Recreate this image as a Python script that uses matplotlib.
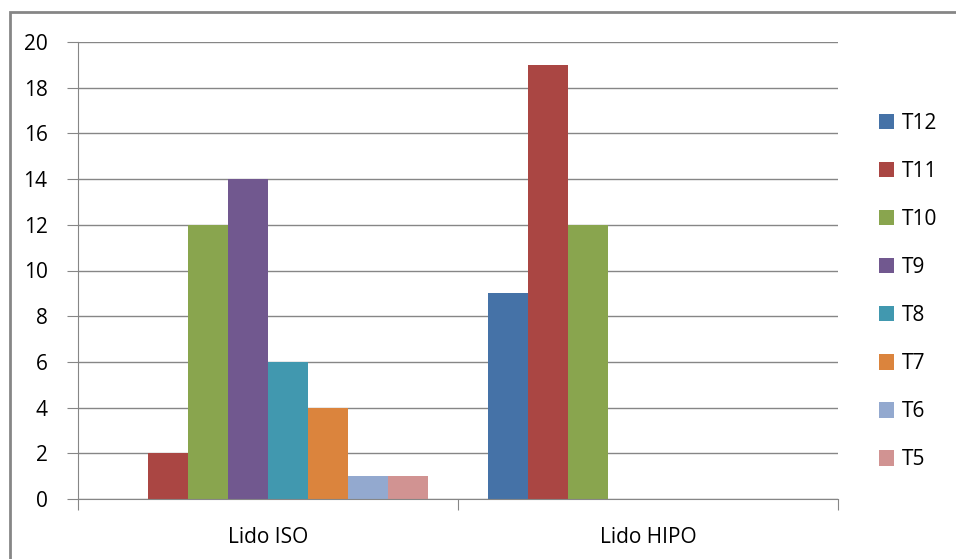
import numpy as np
import matplotlib.pyplot as plt
from matplotlib.patches import Rectangle

plt.rcParams['font.family'] = ['Open Sans', 'DejaVu Sans']

categories = ['Lido ISO', 'Lido HIPO']
series = ['T12', 'T11', 'T10', 'T9', 'T8', 'T7', 'T6', 'T5']
values = {
    'T12': [0, 9],
    'T11': [2, 19],
    'T10': [12, 12],
    'T9': [14, 0],
    'T8': [6, 0],
    'T7': [4, 0],
    'T6': [1, 0],
    'T5': [1, 0],
}
colors = ['#4572A7', '#AA4643', '#89A54E', '#71588F',
          '#4198AF', '#DB843D', '#93A9CF', '#D19392']

fig = plt.figure(figsize=(9.56, 5.59), dpi=100)
ax = fig.add_axes([78/956, 1-499/559, 760/956, 457/559])

# outer chart frame (runs off the right and bottom edges)
fig.patches.append(Rectangle((10/956, -0.05), 1.0, 1-12/559+0.05,
                             transform=fig.transFigure, fill=False,
                             edgecolor='#868686', lw=2))

n = len(series)
bw = (320/380) / n
x = np.arange(len(categories))
for i, s in enumerate(series):
    off = -0.5 + 30/380 + bw*(i+0.5)
    ax.bar(x + off, values[s], width=bw, color=colors[i], label=s,
           edgecolor='none')

ax.set_xlim(-0.5, 1.5)
ax.set_ylim(0, 20)
ax.set_yticks(range(0, 21, 2))
ax.grid(axis='y', color='#868686', lw=1)
ax.set_axisbelow(True)
for sp in ['top', 'right']:
    ax.spines[sp].set_visible(False)
ax.spines['left'].set_color('#868686')
ax.spines['bottom'].set_color('#868686')

ax.set_xticks([-0.5, 0.5, 1.5], minor=False)
ax.set_xticklabels(['', '', ''])
ax.tick_params(axis='x', which='major', length=8, color='#868686')
ax.set_xticks(x, minor=True)
ax.set_xticklabels(categories, minor=True)
ax.tick_params(axis='x', which='minor', length=0, pad=20, labelsize=15)
ax.tick_params(axis='y', length=8, color='#868686', pad=14, labelsize=15)

ax.legend(loc='center left', bbox_to_anchor=(1.029, 0.454), frameon=False,
          fontsize=15, handlelength=0.75, handleheight=0.75,
          handletextpad=0.35, labelspacing=1.3)

fig.savefig('out.png', dpi=100)
